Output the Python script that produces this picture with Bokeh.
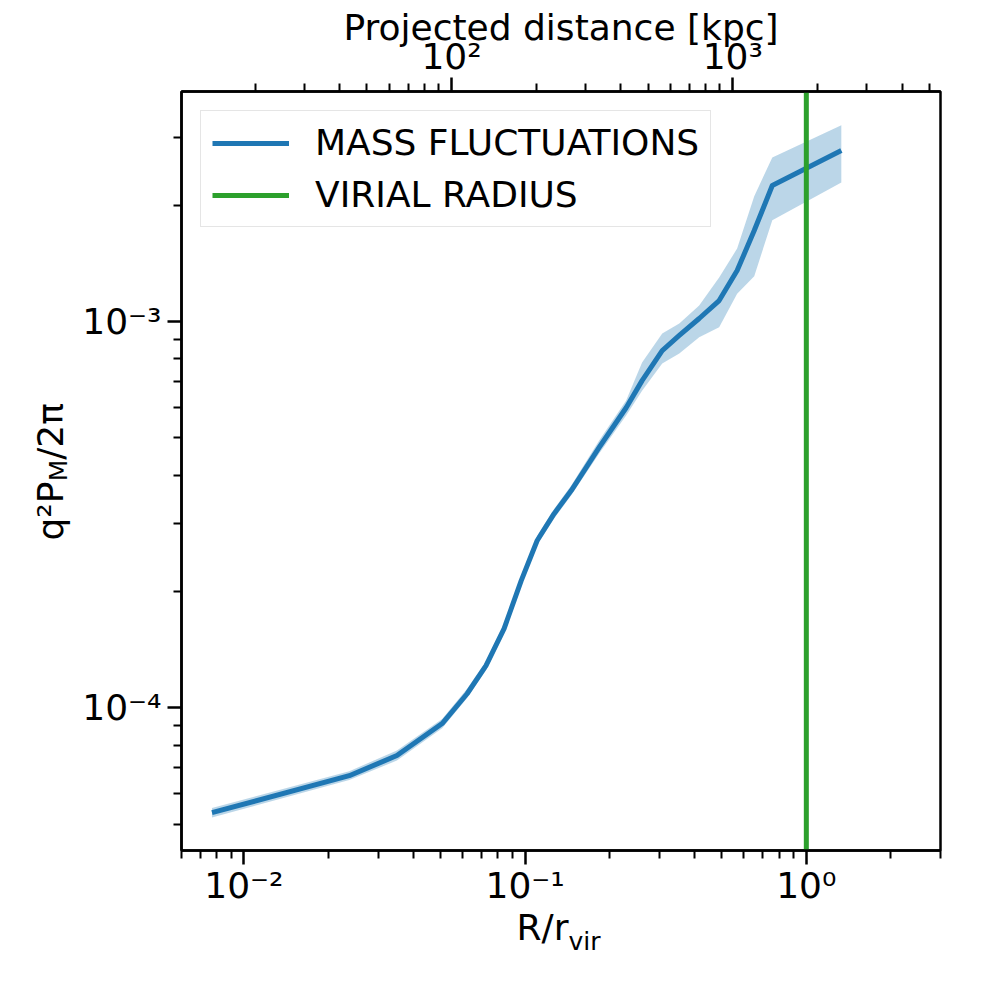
import math
from bokeh.plotting import figure
from bokeh.models import (LogAxis, Range1d, LogScale, FixedTicker, CustomJSTickFormatter,
                          Legend, LegendItem)
from bokeh.embed import file_html
from bokeh.resources import INLINE

# ---------------- data ----------------
R_OVER_RVIR = [0.0077, 0.0237, 0.0350, 0.0507, 0.0622, 0.0726, 0.0842, 0.0968, 0.1104,
               0.1268, 0.1459, 0.1834, 0.2287, 0.2606, 0.3073, 0.3534, 0.4159, 0.4898,
               0.5675, 0.6528, 0.7568, 1.332]
POWER = [5.35e-5, 6.67e-5, 7.52e-5, 9.1e-5, 1.087e-4, 1.285e-4, 1.603e-4, 2.13e-4, 2.71e-4,
         3.18e-4, 3.65e-4, 4.72e-4, 5.98e-4, 7.03e-4, 8.41e-4, 9.2e-4, 1.018e-3, 1.133e-3,
         1.355e-3, 1.72e-3, 2.25e-3, 2.77e-3]
POWER_LO = [5.2e-5, 6.5e-5, 7.3e-5, 8.85e-5, 1.06e-4, 1.25e-4, 1.56e-4, 2.07e-4, 2.64e-4,
            3.09e-4, 3.55e-4, 4.55e-4, 5.71e-4, 6.62e-4, 7.78e-4, 8.26e-4, 9.1e-4, 9.66e-4,
            1.18e-3, 1.31e-3, 1.83e-3, 2.29e-3]
POWER_HI = [5.5e-5, 6.85e-5, 7.75e-5, 9.35e-5, 1.12e-4, 1.32e-4, 1.65e-4, 2.19e-4, 2.79e-4,
            3.27e-4, 3.76e-4, 4.92e-4, 6.24e-4, 7.83e-4, 9.31e-4, 9.88e-4, 1.10e-3, 1.30e-3,
            1.545e-3, 2.11e-3, 2.66e-3, 3.22e-3]
VIRIAL_X = 1.0
RVIR_KPC = 1826.0
X_LIM = (0.006, 3.0)
Y_LIM = (4.27e-5, 3.94e-3)
X_MAJOR = [1e-2, 1e-1, 1e0]
Y_MAJOR = [1e-4, 1e-3]
TOP_MAJOR = [1e2, 1e3]
LABEL_MASS = "MASS FLUCTUATIONS"
LABEL_VIR = "VIRIAL RADIUS"
XLABEL_MAIN, XLABEL_SUB = "R/r", "vir"
YLABEL_A, YLABEL_SUB, YLABEL_B = "q²P", "M", "/2π"
TOP_LABEL = "Projected distance [kpc]"

BLUE = "#1f77b4"
GREEN = "#2ca02c"
FONT = "DejaVu Sans"

# layout (pixels)
FRAME = 759
BORDER_L, BORDER_T, BORDER_R, BORDER_B = 181, 91, 60, 140


def minors(lo, hi):
    out = []
    for e in range(-6, 5):
        for m in range(2, 10):
            v = m * 10.0 ** e
            if lo <= v <= hi:
                out.append(v)
    return out


p = figure(x_axis_type="log", y_axis_type="log",
           x_range=Range1d(*X_LIM), y_range=Range1d(*Y_LIM),
           frame_width=FRAME, frame_height=FRAME,
           min_border_left=BORDER_L, min_border_top=BORDER_T,
           min_border_right=BORDER_R, min_border_bottom=BORDER_B,
           output_backend="svg", toolbar_location=None)
p.xgrid.visible = False
p.ygrid.visible = False
p.outline_line_color = "black"
p.outline_line_width = 2.5
p.background_fill_color = "white"
p.border_fill_color = "white"

fmt_code = """
const sup = {'-':'\u207b','0':'\u2070','1':'\u00b9','2':'\u00b2','3':'\u00b3','4':'\u2074',
             '5':'\u2075','6':'\u2076','7':'\u2077','8':'\u2078','9':'\u2079'};
const e = Math.round(Math.log10(tick));
return '10' + String(e).split('').map(c => sup[c]).join('');
"""


def style_axis(ax, major, lo, hi, standoff):
    ax.ticker = FixedTicker(ticks=major, minor_ticks=minors(lo, hi))
    ax.formatter = CustomJSTickFormatter(code=fmt_code)
    ax.axis_line_color = "black"
    ax.axis_line_width = 2.5
    ax.major_tick_line_width = 2.5
    ax.minor_tick_line_width = 2
    ax.major_tick_out = 14
    ax.major_tick_in = 0
    ax.minor_tick_out = 8
    ax.minor_tick_in = 0
    ax.major_label_text_font = FONT
    ax.major_label_text_font_size = "36px"
    ax.major_label_text_color = "black"
    ax.major_label_standoff = standoff


style_axis(p.xaxis[0], X_MAJOR, *X_LIM, 0)
style_axis(p.yaxis[0], Y_MAJOR, *Y_LIM, 6)

# top axis in kpc, carrying the top title as its axis label
p.extra_x_ranges = {"kpc": Range1d(X_LIM[0] * RVIR_KPC, X_LIM[1] * RVIR_KPC)}
p.extra_x_scales = {"kpc": LogScale()}
top = LogAxis(x_range_name="kpc")
style_axis(top, TOP_MAJOR, X_LIM[0] * RVIR_KPC, X_LIM[1] * RVIR_KPC, 1)
top.axis_label = TOP_LABEL
top.axis_label_text_font = FONT
top.axis_label_text_font_size = "36px"
top.axis_label_text_font_style = "normal"
top.axis_label_text_color = "black"
top.axis_label_standoff = -15
p.add_layout(top, "above")

# band + line
p.varea(x=R_OVER_RVIR, y1=POWER_LO, y2=POWER_HI, fill_color=BLUE, fill_alpha=0.3)
r_mass = p.line(R_OVER_RVIR, POWER, line_color=BLUE, line_width=5, line_join="round")

# virial radius
r_vir = p.line(x=[VIRIAL_X, VIRIAL_X], y=[Y_LIM[0], Y_LIM[1]], line_color=GREEN, line_width=5)

legend = Legend(items=[LegendItem(label=LABEL_MASS, renderers=[r_mass]),
                       LegendItem(label=LABEL_VIR, renderers=[r_vir])],
                location="top_left", margin=19, padding=11, spacing=11,
                glyph_width=77, glyph_height=40, label_standoff=26,
                label_text_font=FONT, label_text_font_size="36px", label_text_color="black",
                border_line_color="#cccccc", border_line_width=1.5,
                background_fill_alpha=0.8)
p.add_layout(legend, "center")

# ---- axis titles with sub/superscripts, placed as tick labels of bare axes ----
XDEC = FRAME / math.log10(X_LIM[1] / X_LIM[0])
YDEC = FRAME / math.log10(Y_LIM[1] / Y_LIM[0])


def px_to_x(px):
    return 10 ** (math.log10(X_LIM[0]) + (px - BORDER_L) / XDEC)


def py_to_y(py):
    return 10 ** (math.log10(Y_LIM[1]) - (py - BORDER_T) / YDEC)


label_code = """
let best = 0;
for (let i = 0; i < tks.length; i++) {
  if (Math.abs(Math.log(tick / tks[i])) < Math.abs(Math.log(tick / tks[best]))) best = i;
}
return lbls[best];
"""


def text_axis(side, tks, lbls, size, standoff, orientation="horizontal"):
    ax = LogAxis()
    ax.ticker = FixedTicker(ticks=tks, minor_ticks=[])
    ax.formatter = CustomJSTickFormatter(args=dict(tks=tks, lbls=lbls), code=label_code)
    ax.axis_line_color = None
    ax.major_tick_line_color = None
    ax.minor_tick_line_color = None
    ax.major_tick_out = 0
    ax.major_tick_in = 0
    ax.minor_tick_out = 0
    ax.minor_tick_in = 0
    ax.major_label_text_font = FONT
    ax.major_label_text_font_size = size
    ax.major_label_text_color = "black"
    ax.major_label_standoff = standoff
    ax.major_label_orientation = orientation
    p.add_layout(ax, side)


# x title: "R/r" + subscript "vir"
text_axis("below", [px_to_x(542)], [XLABEL_MAIN], "36px", -2)
text_axis("below", [px_to_x(584)], [XLABEL_SUB], "25px", -24)
# y title: "q²P" + subscript "M" + "/2π" (rotated)
text_axis("left", [py_to_y(510.5), py_to_y(431)], [YLABEL_A, YLABEL_B], "36px", 9,
          orientation="vertical")
text_axis("left", [py_to_y(470)], [YLABEL_SUB], "25px", -46, orientation="vertical")

open("out.html", "w").write(file_html(p, INLINE))
